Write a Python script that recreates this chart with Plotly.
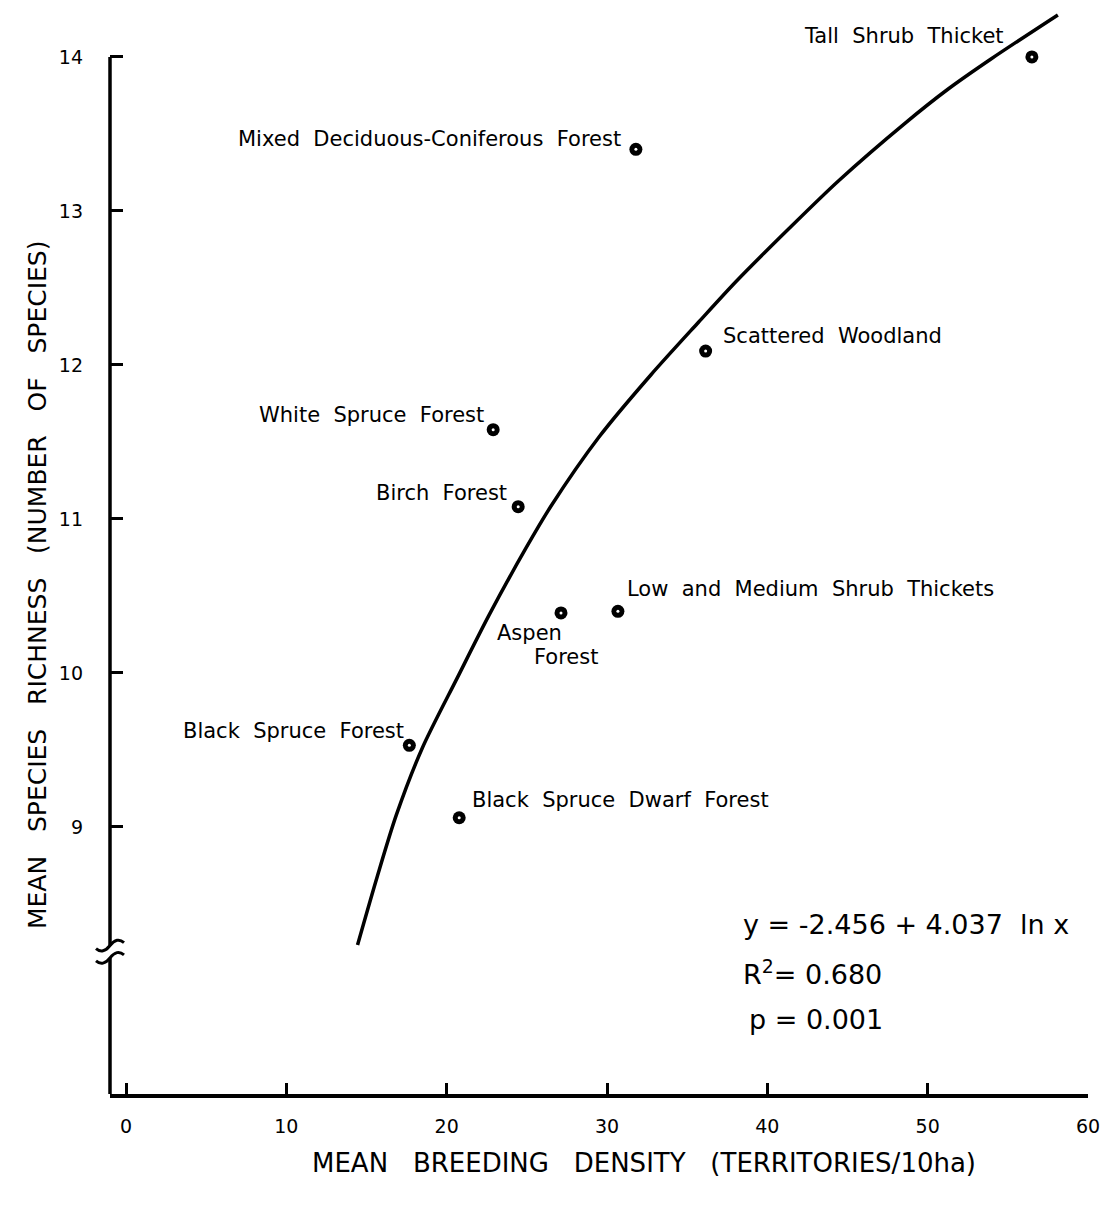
import plotly.graph_objects as go

# ---- data ----
habitats = ["Tall Shrub Thicket", "Mixed Deciduous-Coniferous Forest", "Scattered Woodland",
            "White Spruce Forest", "Birch Forest", "Aspen Forest",
            "Low and Medium Shrub Thickets", "Black Spruce Forest", "Black Spruce Dwarf Forest"]
density = [56.5, 31.8, 36.15, 22.9, 24.46, 27.13, 30.68, 17.67, 20.78]
richness = [14.0, 13.40, 12.09, 11.58, 11.08, 10.39, 10.40, 9.53, 9.06]

# fitted curve as drawn
curve_x = [14.44, 15.68, 16.86, 18.48, 20.66, 22.65, 24.95, 26.51, 29.50, 32.73,
           35.72, 38.02, 41.32, 44.43, 48.60, 51.28, 53.95, 58.12]
curve_y = [8.234, 8.682, 9.078, 9.513, 9.968, 10.377, 10.812, 11.084, 11.532, 11.935,
           12.279, 12.539, 12.883, 13.195, 13.571, 13.792, 13.987, 14.273]

x_ticks = [0, 10, 20, 30, 40, 50, 60]
y_ticks = [9, 10, 11, 12, 13, 14]

FONT = "DejaVu Sans"
SP = " \u00a0\u00a0"  # wide word spacing
SP2 = " \u00a0"

fig = go.Figure()
fig.add_trace(go.Scatter(x=curve_x, y=curve_y, mode="lines",
                         line=dict(color="black", width=3.5, shape="spline", smoothing=0.8),
                         hoverinfo="skip", showlegend=False))
fig.add_trace(go.Scatter(x=density, y=richness, mode="markers",
                         marker=dict(size=13, color="black"),
                         text=habitats, showlegend=False))
fig.add_trace(go.Scatter(x=density, y=richness, mode="markers",
                         marker=dict(size=3, color="white"),
                         hoverinfo="skip", showlegend=False))

# label placement: (text, xanchor, xshift, yshift)
labels = [
    ("Tall Shrub Thicket", "right", -26, 21),
    ("Mixed Deciduous-Coniferous Forest", "right", -13, 10),
    ("Scattered Woodland", "left", 15, 15),
    ("White Spruce Forest", "right", -7, 15),
    ("Birch Forest", "right", -9, 14),
    (None, None, 0, 0),
    ("Low and Medium Shrub Thickets", "left", 7, 22),
    ("Black Spruce Forest", "right", -3, 14),
    ("Black Spruce Dwarf Forest", "left", 11, 18),
]
LBL = dict(family=FONT, size=21, color="black")
annotations = []
for (txt, xa, xs, ys), xv, yv in zip(labels, density, richness):
    if txt is None:
        continue
    annotations.append(dict(x=xv, y=yv, xref="x", yref="y", text=txt.replace(" ", SP2),
                            xanchor=xa, yanchor="middle", xshift=xs, yshift=ys,
                            showarrow=False, font=LBL))
# Aspen Forest on two lines
ai = habitats.index("Aspen Forest")
annotations.append(dict(x=density[ai], y=richness[ai], xref="x", yref="y", text="Aspen",
                        xanchor="center", yanchor="middle", xshift=-32, yshift=-20,
                        showarrow=False, font=LBL))
annotations.append(dict(x=density[ai], y=richness[ai], xref="x", yref="y", text="Forest",
                        xanchor="center", yanchor="middle", xshift=5, yshift=-44,
                        showarrow=False, font=LBL))

# regression statistics
stats = [("y = -2.456 + 4.037" + SP2 + "ln x", 0.645, 0.156),
         ("R<sup>2</sup>= 0.680", 0.645, 0.1125),
         ("p = 0.001", 0.651, 0.0683)]
for t, px, py in stats:
    annotations.append(dict(x=px, y=py, xref="paper", yref="paper", text=t,
                            xanchor="left", yanchor="middle", showarrow=False,
                            font=dict(family=FONT, size=27, color="black")))

# axis titles
annotations.append(dict(x=-0.0735, y=0.4696, xref="paper", yref="paper",
                        text=SP.join(["MEAN", "SPECIES", "RICHNESS", "(NUMBER", "OF", "SPECIES)"]),
                        textangle=-90, showarrow=False, xanchor="center", yanchor="middle",
                        font=dict(family=FONT, size=25, color="black")))
annotations.append(dict(x=0.546, y=-0.0637, xref="paper", yref="paper",
                        text=SP.join(["MEAN", "BREEDING", "DENSITY", "(TERRITORIES/10ha)"]),
                        showarrow=False, xanchor="center", yanchor="middle",
                        font=dict(family=FONT, size=26, color="black")))

# y axis line with a break
brk_hi, brk_lo = 8.23, 8.15
shapes = [
    dict(type="line", xref="paper", yref="y", x0=0, x1=0, y0=14, y1=brk_hi,
         line=dict(color="black", width=3.5), layer="above"),
    dict(type="line", xref="paper", yref="y", x0=0, x1=0, y0=brk_lo, y1=7.266,
         line=dict(color="black", width=3.5), layer="above"),
]
for yb in (brk_hi, brk_lo):
    shapes.append(dict(type="path", xref="paper", yref="y", xsizemode="pixel", ysizemode="pixel",
                       xanchor=0, yanchor=yb, path="M -14,-3 Q -7,-9 0,0 T 14,3",
                       line=dict(color="black", width=3), layer="above"))

fig.update_layout(
    width=1110, height=1205,
    margin=dict(l=110, r=20, t=10, b=111),
    paper_bgcolor="white", plot_bgcolor="white",
    font=dict(family=FONT, color="black"),
    annotations=annotations, shapes=shapes,
    xaxis=dict(range=[-1.0, 60], tickvals=x_ticks, ticks="inside", ticklen=11, tickwidth=2.5,
               tickcolor="black", showline=True, linecolor="black", linewidth=3.5,
               showgrid=False, zeroline=False, tickfont=dict(size=19), ticklabelstandoff=12),
    yaxis=dict(range=[7.266, 14.305], tickvals=y_ticks, ticks="inside", ticklen=13, tickwidth=2.5,
               tickcolor="black", showline=False, showgrid=False, zeroline=False,
               tickfont=dict(size=19), ticklabelstandoff=26),
)

fig.write_html("out.html")
